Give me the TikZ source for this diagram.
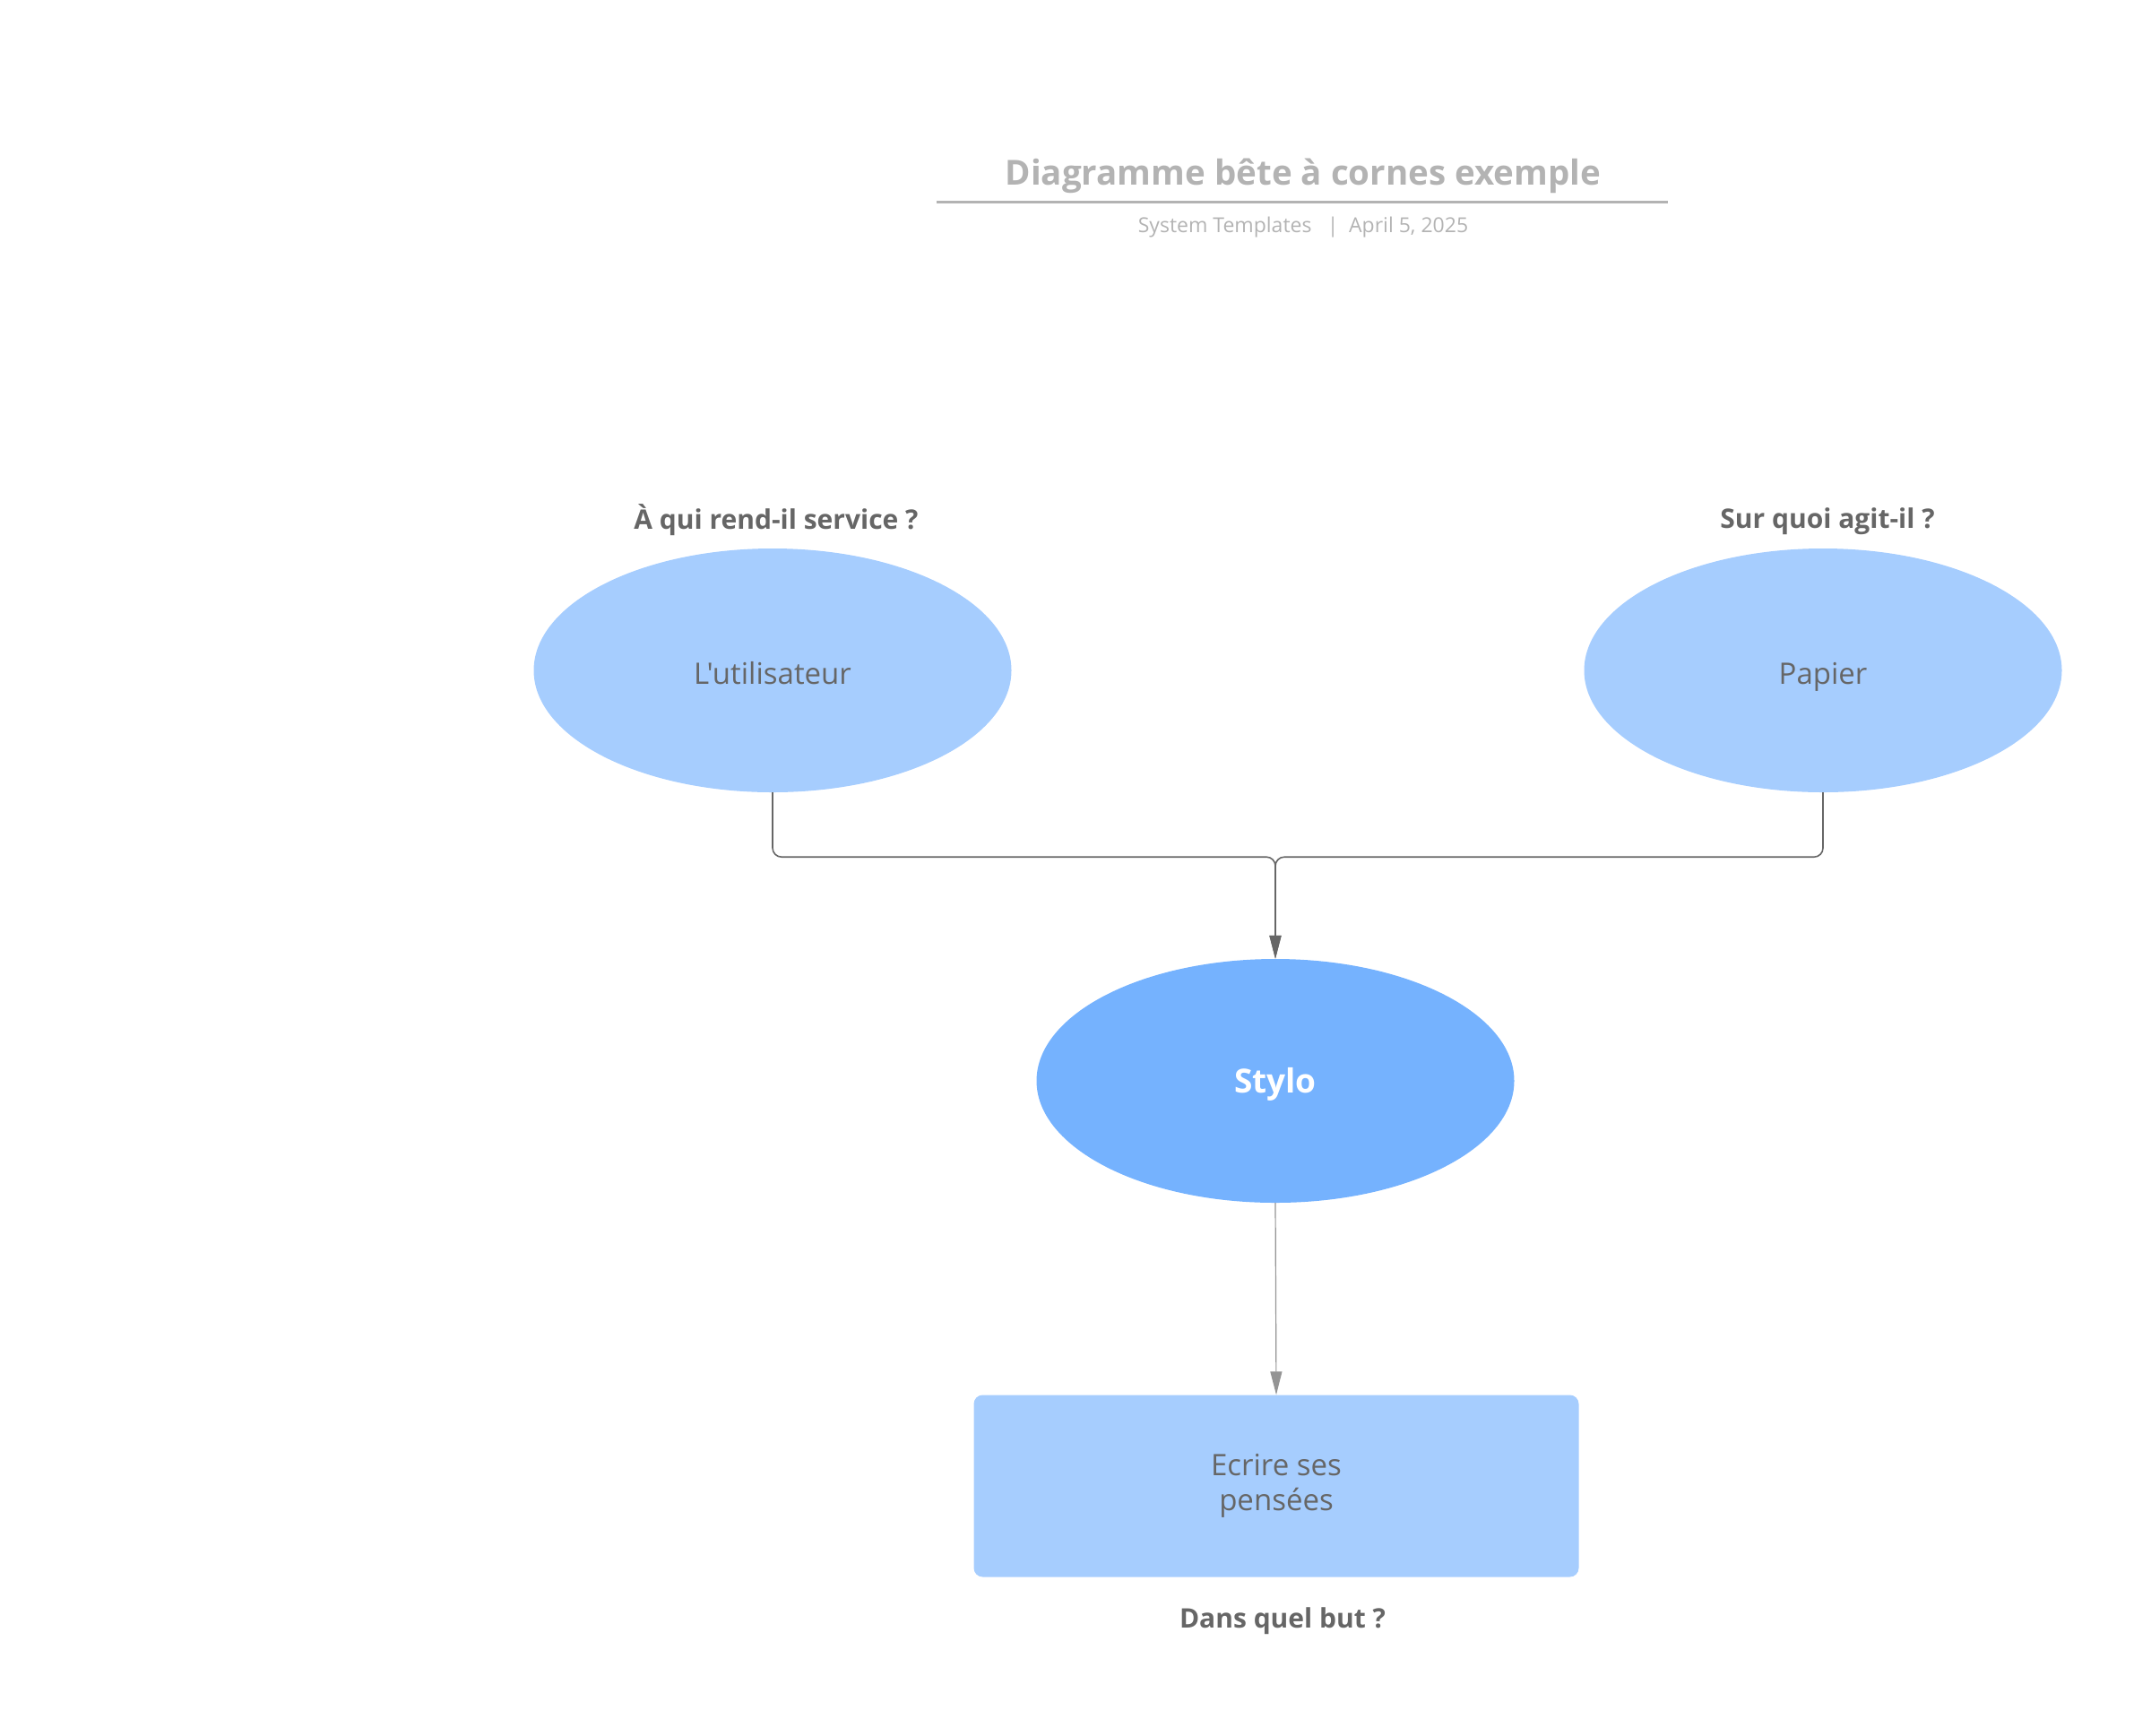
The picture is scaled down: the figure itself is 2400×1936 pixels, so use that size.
\documentclass[tikz,border=0pt]{standalone}
\usepackage{fontspec}
\setmainfont{Open Sans}[Ligatures=TeXOff]
\usetikzlibrary{shapes.geometric,arrows.meta}
\definecolor{lightblue}{HTML}{A6CDFE}
\definecolor{midblue}{HTML}{75B2FE}
\definecolor{textgray}{HTML}{666666}
\definecolor{titlegray}{HTML}{B3B3B3}
\begin{document}
\begin{tikzpicture}[x=1pt, y=-1pt]
  \tikzstyle{side}=[ellipse, fill=lightblue, minimum width=533pt, minimum height=272pt, inner sep=0pt,
    text=textgray, text height=38pt, text depth=7pt, font=\fontsize{33}{40}\selectfont]
  \tikzstyle{main}=[side, fill=midblue, text=white, text height=34pt, text depth=8pt,
    font=\fontsize{37}{44}\selectfont\bfseries]
  \tikzstyle{goal}=[rectangle, rounded corners=10pt, fill=lightblue, minimum width=675pt, minimum height=203pt,
    text=textgray, align=center, font=\fontsize{33}{39}\selectfont]
  \tikzstyle{question}=[text=textgray, font=\fontsize{30}{36}\selectfont\bfseries]
  \tikzstyle{link}=[draw=textgray, line width=1.6pt, rounded corners=10pt, -{Triangle[length=26pt, width=13pt]}]

  \useasboundingbox (0,0) rectangle (2400,1936);

  % title
  \node[text=titlegray, font=\fontsize{38.5}{44}\selectfont\bfseries] (title) at (1454,196) {Diagramme bête à cornes exemple};
  \coordinate (ruleL) at (1045,225);
  \coordinate (ruleR) at (1861,225);
  \draw[titlegray, line width=3pt] (ruleL) -- (ruleR);
  \node[text=titlegray, font=\fontsize{23}{27}\selectfont] (sub) at (1454,254) {System Templates \enspace|\enspace April 5, 2025};

  % questions
  \node[question] (q1) at (866,580)  {À qui rend-il service ?};
  \node[question] (q2) at (2039,582) {Sur quoi agit-il ?};
  \node[question] (q3) at (1431,1809) {Dans quel but ?};

  % nodes
  \node[side] (user)  at (862,748)   {L'utilisateur};
  \node[side] (paper) at (2034,748)  {Papier};
  \node[main] (pen)   at (1423,1206) {Stylo};
  \node[goal] (aim)   at (1424,1658) {Ecrire ses\\pensées};

  \draw[link] (user.south)  -- ++(0,72) -| (pen.north);
  \draw[link] (paper.south) -- ++(0,72) -| (pen.north);
  \draw[link, draw=textgray!70, line width=1.2pt] (pen.south) -- (aim.north);
\end{tikzpicture}
\end{document}
